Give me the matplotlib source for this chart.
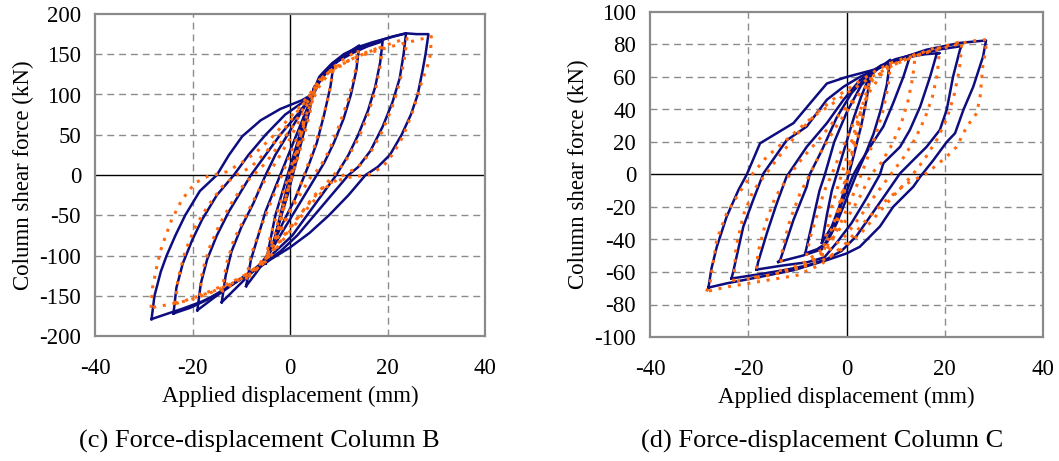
import matplotlib
matplotlib.use('Agg')
import matplotlib.pyplot as plt

plt.rcParams['font.family'] = ['Liberation Serif', 'DejaVu Serif']

# ---------------- Column B : analysis (solid blue) loops ----------------
B_model_x = [
    [-28.4,-27.8,-26.5,-25.3,-23.5,-21.5,-18.5,-15,-12.5,-9.8,-6,-2,2.5,4.5,6,8.5,11,14,17,20,23.8,26,28.4,
     27.8,27.2,26.2,24.8,22.9,20.5,18,15.5,12,8,4,0,-4,-7,-10,-14,-18,-22,-25,-28.4],
    [-23.9,-23.3,-22,-20,-18,-15,-11.5,-8.5,-5,-1,3,4.5,6.5,9,12,15,18,21,23.8,
     23.3,22.5,21,19,16.5,14,12,8.5,5,1.5,-2,-5,-9,-13,-17,-20.5,-23.9],
    [-19,-18.3,-17,-15,-12.5,-10,-8,-5,-2,1.5,4,5.5,7.5,10,13,16,19,
     18.5,17.5,16,14,12,9.5,6.5,3.5,0.5,-3,-5.5,-9,-12,-15.5,-19],
    [-14,-13.2,-12,-10,-7.5,-5,-3,-0.5,2,4,6,8.5,11,14.2,
     13.6,12.5,11,9,7,5.5,3,0.5,-2,-4,-6,-8.5,-11,-14],
    [-9,-8,-6.5,-5,-3,-2,0,2,4,6,9,
     8.3,7,5.5,4,3,1,-1.5,-3.5,-5,-7,-9],
    [-5,-4,-3,-1.5,0,1.5,3,5,
     4,2.5,1,-0.5,-2,-3.5,-5],
    [-3,-2,-1,0,1,2,3,
     2,1,0,-1,-2,-3],
]
B_model_y = [
    [-179,-150,-120,-100,-75,-50,-20,0,25,48,68,82,93,100,122,138,150,159,165,170,176,175,175,
     150,130,100,75,50,25,10,0,-25,-50,-72,-90,-105,-118,-128,-145,-157,-166,-172,-179],
    [-172,-140,-110,-80,-55,-25,0,25,50,75,92,100,125,140,150,160,166,172,176,
     150,120,90,60,30,10,0,-25,-50,-75,-95,-108,-125,-140,-155,-165,-172],
    [-168,-135,-105,-75,-45,-20,0,25,50,75,95,112,130,142,152,160,166,
     140,110,80,50,25,0,-25,-50,-75,-95,-108,-125,-137,-152,-168],
    [-158,-125,-95,-65,-35,0,25,50,75,95,118,135,148,161,
     130,100,70,40,15,0,-25,-50,-75,-95,-110,-125,-140,-158],
    [-138,-105,-75,-45,-15,0,30,60,90,115,140,
     110,75,40,15,0,-30,-60,-85,-105,-122,-138],
    [-110,-80,-50,-20,10,40,70,110,
     80,45,10,-25,-55,-85,-110],
    [-75,-50,-25,0,25,50,75,
     45,20,-5,-30,-55,-75],
]

# ---------------- Column B : test (dotted orange) loops ----------------
B_test_x = [
    [-28.5,-28.2,-27.2,-26.3,-24.3,-22.2,-19.5,-17,-13,-10,-7,-4,-1,2,4,6,9,13,17,21,25,29,
     28.8,28.4,26.7,25.3,23.2,21.2,19,16,12,8,5,2,-1,-3.5,-5.5,-9,-13,-17,-21,-25,-28.5],
    [-23.5,-23,-21.5,-19.5,-17,-14,-11,-8,-5,-2,1,4,6,9,13,17,21,24,
     23.5,22.5,21,19,16.5,14,11,7.5,4,1,-2,-4.5,-8,-12,-16,-20,-23.5],
    [-18.5,-18,-16.5,-14.5,-12,-9.5,-7.5,-5,-2.5,0.5,3.5,6,9,12,15.5,19,
     18.5,17.5,16,14,11.5,9,6,3,0,-2.5,-5,-8.5,-12,-15.5,-18.5],
    [-14,-13,-11.5,-9,-6.5,-4.5,-2.5,0,2.5,4.5,7,10,14,
     13.3,12,10,8,6,4.5,2,-0.5,-2.5,-4.5,-7,-10.5,-14],
    [-9,-8,-6,-4,-2,0,2,4,6,9,
     8,6.5,5,3.5,2,0,-2,-4,-6,-9],
    [-5,-4,-2.5,-1,0.5,2,3.5,5,
     4,2.5,1,-0.5,-2,-3.5,-5],
    [-3,-2,-1,0,1,2,3,
     2,1,0,-1,-2,-3],
]
B_test_y = [
    [-165,-140,-110,-89,-56,-31,-10,-2,4,15,28,45,65,85,100,118,133,145,153,160,166,172,
     150,139,110,81,48,27,10,0,-3,-10,-25,-50,-75,-95,-110,-125,-138,-148,-156,-161,-165],
    [-160,-130,-95,-65,-40,-15,0,10,28,50,75,98,118,132,145,155,164,170,
     145,115,85,55,28,10,0,-15,-38,-62,-85,-105,-122,-135,-145,-153,-160],
    [-150,-120,-90,-62,-35,-12,0,15,35,60,90,115,130,142,152,160,
     135,105,75,45,18,0,-20,-42,-65,-85,-105,-122,-133,-142,-150],
    [-145,-110,-80,-50,-20,0,20,45,75,100,122,140,155,
     125,95,60,30,8,0,-25,-50,-75,-98,-115,-130,-145],
    [-130,-100,-65,-35,-5,25,55,85,110,135,
     100,65,35,10,-15,-45,-72,-95,-112,-130],
    [-105,-75,-45,-15,15,45,75,105,
     75,40,10,-20,-50,-80,-105],
    [-80,-55,-30,-5,20,45,70,
     40,15,-10,-35,-60,-80],
]

# ---------------- Column C : analysis (solid blue) loops ----------------
C_model_x = [
    [-28.1,-27.5,-26.4,-24.4,-22,-20.3,-17.6,-14.2,-10.8,-6.8,-4,0,5.5,9.5,16.3,23.1,28.4,
     27.8,25.8,23.8,22.1,20.4,17.7,15,13.6,9.5,6.8,2.7,0,-4,-10.8,-17.6,-24.4,-28.1],
    [-23.4,-23,-21,-19,-16.9,-12.2,-8.1,-4,-0.6,2.7,5.5,10,15,19,23.4,
     23.1,21.7,20.4,19,16.3,13.6,10.9,8,5,2,-1,-4,-8,-13,-18,-23.4],
    [-18.3,-18,-16.2,-14.2,-12.2,-8.1,-4,-0.6,2.7,7,12,16,19,
     18.4,17,15,12.9,10.9,7.5,6.8,4,1,-2,-4.5,-8,-13,-18.3],
    [-13.9,-13.5,-10.8,-8.1,-7.5,-5,-2,1,4,7,10,13.6,
     12.9,11.6,9.5,7.5,4.8,2.7,1.4,-1,-3,-5,-9,-13.9],
    [-8.4,-7,-5.5,-4.4,-2.5,0,3,6,8.9,
     8.2,7,5.5,3.5,2,0,-2,-4,-6,-8.4],
    [-5,-4,-3,-1.5,0,1.5,3,5,
     4,3,1.5,0,-1.5,-3,-5],
]
C_model_y = [
    [-69.6,-58,-44.5,-26,-9.6,0,19.2,25.4,31.6,46,56,60,64.4,70,76.8,81,82.5,
     72.6,54,39.8,25.4,20,8.9,-1.4,-7.5,-19.9,-32,-44.5,-48.6,-52.7,-58.9,-63,-67,-69.6],
    [-64,-59,-32,-15.7,0.7,21,29.5,46,54,60,64,70,74,77,79,
     76.8,60.3,39.8,27.4,17,8.9,0.7,-12,-25,-38,-47,-52,-56,-59,-61.5,-64],
    [-58.5,-54,-36,-17.8,-1.3,17,31.6,46,58,67,72,74,74.7,
     74.7,60,41.8,27.4,17,6.9,0,-15,-30,-42,-51,-54,-56,-58.5],
    [-53.8,-52.7,-28,-7.5,0,15,35,50,60,67,71,73.7,
     72.6,60.3,43.9,29.5,17,6.9,0,-18,-35,-46,-50,-53.8],
    [-48.6,-30,-10,0,20,38,55,64,70.6,
     55,40,25,10,0,-15,-30,-42,-46,-48.6],
    [-42,-25,-10,5,20,35,48,63,
     45,30,12,-5,-20,-32,-42],
]

# ---------------- Column C : test (dotted orange) loops ----------------
C_test_x = [
    [-28.5,-27.8,-26.4,-24.4,-22,-19.6,-16.2,-12,-6.8,-2.7,1,5,10,15,20,25,28.5,
     28.3,27.8,27.2,26.5,24.5,22.4,20.4,16.3,12,8,4,0,-5,-10,-18,-24,-28.5],
    [-23,-22.5,-21,-19,-16.5,-13.5,-10,-6,-2,2,6,10,15,19,23.5,
     23,22,20.5,18.5,16,13.5,10.5,7,3,-1,-5,-10,-16,-23],
    [-18.5,-18,-16.5,-14.5,-12,-9,-5.5,-2,2,6,10,14.5,19,
     18.5,17.5,16,14,11.5,9,6,3,0,-4,-8,-13,-18.5],
    [-13.5,-13,-11.5,-9.5,-7.5,-5,-2,1.5,5,9,14,
     13.5,12.5,11,9,7,5,2.5,-0.5,-4,-8.5,-13.5],
    [-8.5,-7.5,-6,-4.5,-3,-1,1.5,4.5,9,
     8.5,7.5,6,4.5,3,1,-1.5,-4,-8.5],
    [-5,-4,-3,-1.5,0,1.5,3,5,
     4,3,1.5,0,-2,-5],
    [-3,-2,-1,0,1,2,3,
     2,1,0,-1,-2,-3],
]
C_test_y = [
    [-72,-67,-40,-24,-12,-1.3,11,22,35.6,43.9,52,60,68,74,78,82,83,
     75,68.6,48,37.7,29.5,17,11,0.7,-6,-16,-28,-42,-55,-62,-66,-69,-72],
    [-66,-45,-25,-10,0,12,25,38,48,56,64,70,74,78,82,
     65,50,35,22,10,0,-10,-22,-36,-46,-53,-58,-62,-66],
    [-64,-48,-30,-14,-2,10,22,35,48,60,68,74,79,
     62,48,35,22,10,0,-12,-25,-37,-48,-55,-60,-64],
    [-60,-45,-28,-12,0,15,30,45,58,67,74,
     60,45,30,17,7,0,-15,-30,-44,-54,-60],
    [-56,-40,-25,-10,0,15,32,50,70,
     55,40,25,12,0,-15,-32,-46,-56],
    [-50,-35,-20,-5,10,25,40,60,
     45,30,15,0,-25,-50],
    [-40,-28,-15,-2,12,26,40,
     25,10,-5,-18,-30,-40],
]

x_ticks = [-40, -20, 0, 20, 40]
B_yticks = [-200, -150, -100, -50, 0, 50, 100, 150, 200]
C_yticks = [-100, -80, -60, -40, -20, 0, 20, 40, 60, 80, 100]
xlabel_text = 'Applied displacement (mm)'
ylabel_text = 'Column shear force (kN)'
captions = ['(c) Force-displacement Column B', '(d) Force-displacement Column C']

BLUE = '#0d0d80'
ORANGE = '#ff6a0f'
GRID = '#8c8c8c'
FS_TICK = 16.5
FS_LABEL = 16.5
FS_CAP = 19

W, H = 1059, 461
fig = plt.figure(figsize=(W / 100, H / 100), dpi=100)
axB = fig.add_axes([95 / W, 1 - 336 / H, 390 / W, 322 / H])
axC = fig.add_axes([650 / W, 1 - 337 / H, 393 / W, 325 / H])


def style(ax, yticks):
    ax.set_xlim(x_ticks[0], x_ticks[-1])
    ax.set_ylim(yticks[0], yticks[-1])
    ax.set_xticks(x_ticks)
    ax.set_yticks(yticks)
    ax.set_xticklabels([str(v) for v in x_ticks])
    ax.set_yticklabels([str(v) for v in yticks])
    ax.tick_params(length=0, labelsize=FS_TICK)
    ax.tick_params(axis='x', pad=16)
    ax.tick_params(axis='y', pad=10)
    for v in x_ticks[1:-1]:
        if v != 0:
            ax.axvline(v, color=GRID, lw=1.0, dashes=(5, 3.5), zorder=0.5)
    for v in yticks[1:-1]:
        if v != 0:
            ax.axhline(v, color=GRID, lw=1.0, dashes=(5, 3.5), zorder=0.5)
    ax.axhline(0, color='black', lw=1.0, zorder=0.8)
    ax.axvline(0, color='black', lw=1.0, zorder=0.8)
    for s in ax.spines.values():
        s.set_color('#8a8a8a')
        s.set_linewidth(1.6)
    ax.set_xlabel(xlabel_text, fontsize=FS_LABEL, labelpad=5)
    ax.set_ylabel(ylabel_text, fontsize=FS_LABEL, labelpad=4)


def draw(ax, mx, my, tx, ty):
    for xs, ys in zip(mx, my):
        ax.plot(xs, ys, color=BLUE, lw=1.8, zorder=2, solid_joinstyle='round')
    for xs, ys in zip(tx, ty):
        ax.plot(xs, ys, color=ORANGE, lw=2.2, dashes=(1.0, 2.2), zorder=3,
                dash_capstyle='butt')


style(axB, B_yticks)
style(axC, C_yticks)
draw(axB, B_model_x, B_model_y, B_test_x, B_test_y)
draw(axC, C_model_x, C_model_y, C_test_x, C_test_y)

fig.text(259 / W, 1 - 441 / H, captions[0], ha='center', va='center', fontsize=FS_CAP)
fig.text(822 / W, 1 - 441 / H, captions[1], ha='center', va='center', fontsize=FS_CAP)

fig.savefig('out.png', dpi=100)
